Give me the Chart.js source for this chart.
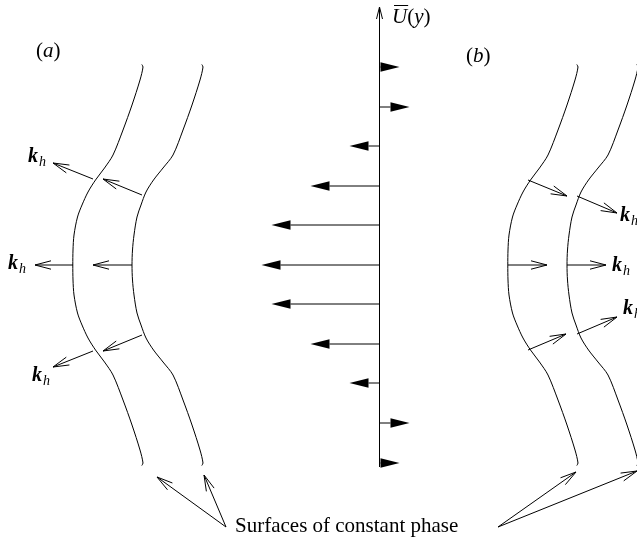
<!DOCTYPE html>
<html><head><meta charset="utf-8">
<script src="https://cdn.jsdelivr.net/npm/chart.js@4.4.1/dist/chart.umd.min.js"></script>
<style>html,body{margin:0;padding:0;background:#fff;overflow:hidden}#c{display:block}</style>
</head><body>
<canvas id="c" width="637" height="540"></canvas>
<script>
// ---- mean-flow profile U(y) (arrows drawn from the vertical axis) ----
const profileY = [67, 107, 146, 186, 225, 265, 304, 344, 383, 423, 463];
const profileU = [20, 30, -30, -69, -108, -118, -108, -69, -30, 30, 20];
const axisX = 379.5, axisBottom = 467, axisTop = 7;

// ---- surfaces of constant phase (panel (a) shape; panel (b) is the same shape shifted) ----
const surfY  = [64.5, 67, 80, 105, 130, 155, 168, 180, 192, 205, 217, 235, 250, 265, 280, 295, 313, 325, 338, 350, 362, 375, 400, 425, 450, 463, 465.5];
const surf1X = [141.8, 143, 140, 132, 123, 113, 104.5, 95.5, 88, 82, 77.5, 74, 73, 72.8, 73, 74, 77.5, 82, 88, 95.5, 104.5, 113, 123, 132, 140, 143, 141.8];
const surf2X = [201.8, 203, 200, 192, 183, 173, 163, 153.5, 146, 141, 137, 134, 132.5, 132, 132.5, 134, 137, 141, 146, 153.5, 163, 173, 183, 192, 200, 203, 201.8];
const panelShift = [0, 435];

// ---- wave-vector arrows k_h ----
const kaFromX = [142, 93, 132, 73, 142, 93],   kaFromY = [195, 179, 265, 265, 335, 351];
const kaToX   = [103, 53, 93, 35, 103, 53],    kaToY   = [179, 163, 265, 265, 351, 367];
const kbFromX = [528, 577, 508, 567, 528, 577], kbFromY = [180, 196, 265, 265, 350, 334];
const kbToX   = [567, 617, 547, 606, 566, 617], kbToY   = [196, 213, 265, 265, 334, 317];

// k_h label anchors (left x, baseline y)
const kLabelX = [28, 8, 32, 620, 612, 623];
const kLabelY = [162, 269, 381, 221, 271, 314];

// ---- pointers from caption to surfaces ----
const ptrFromX = [226, 226, 498, 498], ptrFromY = [527, 527, 527, 527];
const ptrToX   = [157, 204, 576, 637], ptrToY   = [477, 475, 472, 471];

const SERIF = '"Liberation Serif","Times New Roman",serif';

function curveData(xs, shift) { return surfY.map((y, i) => ({x: xs[i] + shift, y})); }
const lineStyle = {showLine: true, pointRadius: 0, borderColor: '#000', borderWidth: 1, tension: 0.3, fill: false};

const datasets = [];
panelShift.forEach(s => {
  datasets.push(Object.assign({data: curveData(surf1X, s)}, lineStyle));
  datasets.push(Object.assign({data: curveData(surf2X, s)}, lineStyle));
});
datasets.push(Object.assign({data: [{x: axisX, y: axisBottom}, {x: axisX, y: axisTop}]}, lineStyle, {tension: 0}));

function openArrow(ctx, x1, y1, x2, y2, len, hw) {
  const a = Math.atan2(y2 - y1, x2 - x1);
  const ca = Math.cos(a), sa = Math.sin(a);
  ctx.beginPath();
  ctx.moveTo(x1, y1); ctx.lineTo(x2, y2);
  ctx.moveTo(x2 - len * ca - hw * sa, y2 - len * sa + hw * ca);
  ctx.lineTo(x2, y2);
  ctx.lineTo(x2 - len * ca + hw * sa, y2 - len * sa - hw * ca);
  ctx.stroke();
}
function runs(ctx, parts, x, y) {
  parts.forEach(p => {
    ctx.font = p.f;
    ctx.fillText(p.t, x, y + (p.dy || 0));
    x += ctx.measureText(p.t).width + (p.gap || 0);
  });
  return x;
}

const diagram = {
  id: 'diagram',
  afterDatasetsDraw(chart) {
    const {ctx} = chart, sx = chart.scales.x, sy = chart.scales.y;
    const px = v => sx.getPixelForValue(v), py = v => sy.getPixelForValue(v);
    ctx.save();
    ctx.strokeStyle = '#000'; ctx.fillStyle = '#000'; ctx.lineWidth = 1;
    ctx.textBaseline = 'alphabetic';

    // axis arrowhead
    openArrow(ctx, px(axisX), py(axisTop + 12), px(axisX), py(axisTop), 12, 3);

    // velocity arrows (filled heads)
    profileY.forEach((yv, i) => {
      const y0 = py(yv), x0 = px(axisX), xt = px(axisX + profileU[i]);
      const sgn = Math.sign(xt - x0), base = xt - sgn * 19;
      if ((base - x0) * sgn > 0) { ctx.beginPath(); ctx.moveTo(x0, y0); ctx.lineTo(base, y0); ctx.stroke(); }
      ctx.beginPath(); ctx.moveTo(xt, y0); ctx.lineTo(base, y0 - 4.7); ctx.lineTo(base, y0 + 4.7); ctx.closePath(); ctx.fill();
    });

    // wave-vector arrows
    kaFromX.forEach((_, i) => openArrow(ctx, px(kaFromX[i]), py(kaFromY[i]), px(kaToX[i]), py(kaToY[i]), 16, 4.2));
    kbFromX.forEach((_, i) => openArrow(ctx, px(kbFromX[i]), py(kbFromY[i]), px(kbToX[i]), py(kbToY[i]), 16, 4.2));
    // caption pointers
    ptrFromX.forEach((_, i) => openArrow(ctx, px(ptrFromX[i]), py(ptrFromY[i]), px(ptrToX[i]), py(ptrToY[i]), 16, 4.2));

    // k_h labels
    kLabelX.forEach((_, i) => {
      runs(ctx, [{t: 'k', f: 'bold italic 20px ' + SERIF, gap: 1}, {t: 'h', f: 'italic 14px ' + SERIF, dy: 4}], px(kLabelX[i]), py(kLabelY[i]));
    });

    // panel labels
    const N = '21px ' + SERIF, I = 'italic 21px ' + SERIF;
    runs(ctx, [{t: '(', f: N}, {t: 'a', f: I}, {t: ')', f: N}], px(36), py(57));
    runs(ctx, [{t: '(', f: N}, {t: 'b', f: I}, {t: ')', f: N}], px(466), py(62));

    // U-bar(y)
    let ux = px(392), uy = py(23);
    ctx.font = I;
    const uw = ctx.measureText('U').width;
    ctx.beginPath(); ctx.moveTo(ux + 2, uy - 17.5); ctx.lineTo(ux + uw + 1, uy - 17.5); ctx.stroke();
    runs(ctx, [{t: 'U', f: I}, {t: '(', f: N}, {t: 'y', f: I}, {t: ')', f: N}], ux, uy);

    // caption
    ctx.font = N;
    ctx.fillText('Surfaces of constant phase', px(235), py(532));
    ctx.restore();
  }
};

new Chart(document.getElementById('c'), {
  type: 'scatter',
  data: {datasets},
  options: {
    responsive: false, animation: false, devicePixelRatio: 1, events: [],
    layout: {padding: 0},
    plugins: {legend: {display: false}, tooltip: {enabled: false}, title: {display: false}},
    scales: {
      x: {type: 'linear', min: 0, max: 637, display: false},
      y: {type: 'linear', min: 0, max: 540, reverse: true, display: false}
    }
  },
  plugins: [diagram]
});
</script>
</body></html>
